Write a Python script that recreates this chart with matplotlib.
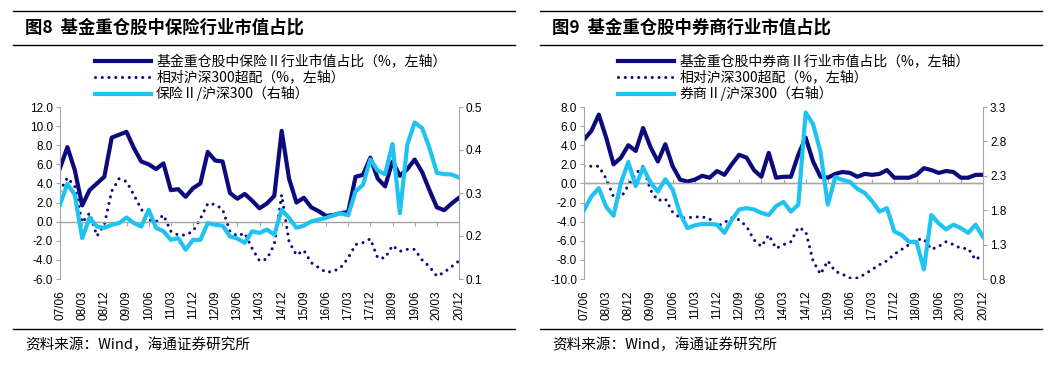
import matplotlib
matplotlib.use('Agg')
import matplotlib.pyplot as plt
from matplotlib.lines import Line2D

plt.rcParams['font.family'] = ['Liberation Sans', 'Noto Sans CJK SC']

# 季度数据：07/06 ~ 20/12
tick_labels = ['07/06', '08/03', '08/12', '09/09', '10/06', '11/03', '11/12',
               '12/09', '13/06', '14/03', '14/12', '15/09', '16/06', '17/03',
               '17/12', '18/09', '19/06', '20/03', '20/12']

# 图8 保险
ins_share = [5.6, 7.8, 5.4, 1.7, 3.3, 4.0, 4.7, 8.8, 9.1, 9.4,
             7.7, 6.3, 6.0, 5.5, 6.1, 3.3, 3.4, 2.6, 3.5, 4.0,
             7.3, 6.4, 6.3, 3.0, 2.4, 2.9, 2.2, 1.4, 1.9, 2.7,
             9.5, 4.5, 2.0, 2.5, 1.5, 1.1, 0.6, 0.7, 0.9, 1.0,
             4.7, 4.9, 6.7, 4.5, 3.7, 6.3, 4.8, 5.5, 6.5, 5.2,
             3.3, 1.5, 1.2, 1.9, 2.5]
ins_over = [3.2, 4.6, 3.7, -0.1, 0.9, -1.5, -0.3, 3.2, 4.5, 4.2,
            2.8, 1.3, 0.2, 0.0, 0.7, -1.0, -1.4, -1.4, -1.0, 0.3,
            1.9, 1.8, 1.3, -1.0, -1.5, -1.2, -2.8, -4.1, -3.9, -2.4,
            2.8, -2.1, -3.5, -3.0, -4.3, -4.8, -5.3, -5.2, -4.8, -3.8,
            -2.4, -2.2, -1.8, -3.8, -3.8, -2.5, -3.1, -2.9, -2.9, -4.0,
            -4.7, -5.7, -5.3, -4.7, -4.1]
ins_rel = [0.273, 0.321, 0.296, 0.195, 0.242, 0.222, 0.219, 0.226, 0.230, 0.243,
           0.230, 0.222, 0.261, 0.219, 0.211, 0.191, 0.195, 0.168, 0.191, 0.191,
           0.230, 0.226, 0.224, 0.199, 0.194, 0.184, 0.211, 0.207, 0.215, 0.203,
           0.261, 0.242, 0.219, 0.224, 0.234, 0.238, 0.242, 0.248, 0.253, 0.248,
           0.304, 0.319, 0.378, 0.352, 0.344, 0.414, 0.253, 0.412, 0.464, 0.451,
           0.405, 0.347, 0.344, 0.343, 0.336]

# 图9 券商
sec_share = [4.6, 5.5, 7.2, 4.8, 2.0, 2.7, 4.0, 3.4, 5.8, 3.8,
             2.3, 4.1, 1.8, 0.4, 0.2, 0.4, 0.8, 0.6, 1.3, 0.9,
             2.0, 3.0, 2.7, 1.4, 0.7, 3.2, 0.6, 0.7, 0.7, 3.0,
             4.8, 2.3, 0.7, 0.6, 1.0, 1.2, 1.1, 0.7, 1.0, 0.9,
             1.0, 1.4, 0.6, 0.6, 0.6, 0.9, 1.6, 1.4, 1.1, 1.3,
             1.2, 0.6, 0.6, 0.9, 0.9]
sec_over = [1.8, 1.8, 1.8, 0.5, -1.4, -1.5, -0.2, 1.0, 1.8, -0.7,
            -1.8, -1.6, -3.0, -3.6, -3.6, -3.5, -3.5, -3.7, -4.5, -4.1,
            -3.6, -3.8, -4.5, -5.9, -6.6, -5.4, -6.8, -6.4, -6.1, -4.6,
            -5.0, -8.1, -9.5, -8.1, -9.2, -9.5, -9.9, -9.9, -9.5, -9.0,
            -8.5, -8.1, -7.4, -6.9, -6.4, -5.9, -5.8, -6.9, -6.6, -6.1,
            -6.4, -6.8, -6.8, -8.0, -7.4]
sec_rel = [1.80, 2.00, 2.12, 1.85, 1.72, 2.20, 2.50, 2.15, 2.42, 2.20,
           2.07, 2.25, 2.10, 1.75, 1.54, 1.58, 1.60, 1.60, 1.59, 1.47,
           1.66, 1.81, 1.83, 1.81, 1.76, 1.73, 1.86, 1.92, 1.78, 1.88,
           3.22, 3.05, 2.65, 1.88, 2.28, 2.24, 2.21, 2.11, 2.05, 1.93,
           1.78, 1.83, 1.49, 1.44, 1.34, 1.34, 0.94, 1.73, 1.61, 1.52,
           1.59, 1.54, 1.47, 1.59, 1.41]

DARK = '#0b0b7c'
CYAN = '#1fc3f2'
GRAY = '#a6a6a6'
W, H = 1061, 365

fig = plt.figure(figsize=(W / 100, H / 100), dpi=100)


def px(x, y):
    return x / W, 1 - y / H


def panel(x0, x1, title, src_x, legend_x, labels, share, over, rel,
          ylim, yticks, y2lim, y2ticks, ax_left):
    # 顶部和底部横线
    for y in (10.5, 45, 329):
        fig.add_artist(Line2D([x0 / W, x1 / W], [1 - y / H] * 2,
                              color='black', lw=1.0))
    fig.text(*px(src_x, 28), title, fontsize=12.5, fontweight='bold',
             family=['Noto Sans CJK SC'], va='center')
    fig.text(*px(src_x, 345), '资料来源：Wind，海通证券研究所', fontsize=10.5,
             family=['Noto Sans CJK SC'], va='center')

    ax = fig.add_axes([ax_left / W, 1 - 279 / H, 399 / W, 172 / H])
    x = list(range(len(share)))
    l1, = ax.plot(x, share, color=DARK, lw=3, solid_joinstyle='round')
    l2, = ax.plot(x, over, color=DARK, lw=2.2, linestyle=(0, (0.01, 2.2)),
                  dash_capstyle='round')
    ax.axhline(0, color=GRAY, lw=1)
    ax.set_xlim(0, len(share) - 1)
    ax.set_ylim(*ylim)
    ax.set_yticks(yticks)
    ax.set_yticklabels([f'{v:.1f}' for v in yticks])
    ax.set_xticks(range(0, len(share), 3))
    ax.set_xticklabels(tick_labels, rotation=90)
    ax.tick_params(axis='x', length=0, pad=8, labelsize=8.5)
    ax.tick_params(axis='y', length=3, color=GRAY, labelsize=8.5, pad=2)
    for s in ('top', 'right', 'bottom'):
        ax.spines[s].set_visible(False)
    ax.spines['left'].set_color(GRAY)

    zero = (0 - ylim[0]) / (ylim[1] - ylim[0])
    sec = ax.secondary_xaxis(zero)
    sec.set_xticks(range(0, len(share), 3))
    sec.set_xticklabels([])
    sec.tick_params(length=3, color=GRAY)
    sec.spines['bottom'].set_color(GRAY)

    ax2 = ax.twinx()
    l3, = ax2.plot(x, rel, color=CYAN, lw=3, solid_joinstyle='round')
    ax2.set_ylim(*y2lim)
    ax2.set_yticks(y2ticks)
    ax2.set_yticklabels([f'{v:.1f}' for v in y2ticks])
    ax2.tick_params(axis='y', length=3, color=GRAY, labelsize=8.5, pad=2)
    for s in ('top', 'left', 'bottom'):
        ax2.spines[s].set_visible(False)
    ax2.spines['right'].set_color(GRAY)

    ax.legend([l1, l2, l3], labels, loc='upper left',
              bbox_to_anchor=px(legend_x, 55), bbox_transform=fig.transFigure,
              frameon=False, handlelength=4.0, handletextpad=0.4,
              labelspacing=0.12, borderpad=0, borderaxespad=0,
              prop={'family': ['Noto Sans CJK SC'], 'size': 10})


panel(13, 515, '图8  基金重仓股中保险行业市值占比', 25, 95,
      ['基金重仓股中保险Ⅱ行业市值占比（%，左轴）', '相对沪深300超配（%，左轴）',
       '保险Ⅱ/沪深300（右轴）'],
      ins_share, ins_over, ins_rel,
      (-6, 12), [-6 + 2 * k for k in range(10)],
      (0.1, 0.5), [0.1, 0.2, 0.3, 0.4, 0.5], 60)

panel(540, 1042, '图9  基金重仓股中券商行业市值占比', 552, 618,
      ['基金重仓股中券商Ⅱ行业市值占比（%，左轴）', '相对沪深300超配（%，左轴）',
       '券商Ⅱ/沪深300（右轴）'],
      sec_share, sec_over, sec_rel,
      (-10, 8), [-10 + 2 * k for k in range(10)],
      (0.8, 3.3), [0.8, 1.3, 1.8, 2.3, 2.8, 3.3], 584)

fig.savefig('out.png', dpi=100)
